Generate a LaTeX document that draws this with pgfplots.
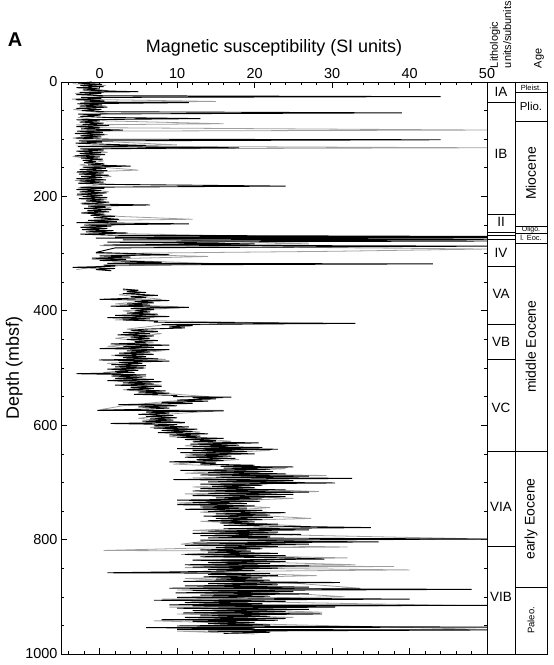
\documentclass[border=0pt]{standalone}
\usepackage{fontspec}
\setmainfont{Liberation Sans}
\usepackage{pgfplots}
\pgfplotsset{compat=1.18}
\begin{document}
\begin{tikzpicture}[x=1bp,y=1bp]
\useasboundingbox (-61,-11) rectangle (493,654);
\begin{axis}[
  at={(0,0)}, anchor=south west,
  scale only axis, width=426bp, height=572bp,
  xmin=-5, xmax=50, ymin=0, ymax=1000, y dir=reverse,
  clip=false,
  xtick={0,10,...,50},
  minor xtick={-4,-2,2,4,6,8,12,14,16,18,22,24,26,28,32,34,36,38,42,44,46,48},
  ytick={0,200,...,1000},
  minor ytick={50,100,150,250,300,350,450,500,550,650,700,750,850,900,950},
  xtick pos=both, ytick pos=both, xticklabel pos=right, yticklabel pos=left,
  tick align=inside,
  major tick length=6bp, minor tick length=3.5bp,
  every tick/.style={black, line width=0.6pt},
  axis line style={line width=0.7pt},
  /pgf/number format/assume math mode=true,
  /pgf/number format/1000 sep={},
  ticklabel style={font=\fontsize{14.5}{16}\selectfont},
  xlabel={Magnetic susceptibility (SI units)},
  ylabel={Depth (mbsf)},
  x label style={at={(axis description cs:0.5,1.0507)}, anchor=base, font=\fontsize{18}{20}\selectfont},
  y label style={at={(axis description cs:-0.110,0.5)}, anchor=center, font=\fontsize{18}{20}\selectfont},
]
% gray series (second record)
\addplot[gray!75, line width=0.8pt, line join=bevel] coordinates {
(-3.5,3) (0.8,6) (-2.0,10) (1.0,15) (-3.2,20) (0.5,25) (-3.6,30) (15,34) (-2.5,36) (0.8,42) (-3.4,48) (1.0,55)
(-2.8,62) (0.9,68) (16,73) (-3.0,75) (0.5,80) (50,84) (-2.5,86) (1.0,92) (-3.5,98) (0.6,104) (10,110) (-3.0,112)
(50,115) (-2.0,117) (1.0,123) (-3.5,130) (0.5,138) (-2.6,145) (1.2,150) (5.0,154) (-3.0,158) (1.5,165) (-3.2,172)
(0.8,178) (-2.8,185) (1.2,192) (-3.0,198) (0.9,205) (-2.5,212) (1.5,220) (-2.0,228) (2.5,235) (12,240) (-1.0,242)
(2.0,250) (-2.0,258) (2.5,265) (30,272) (5,274) (27,283) (0.0,286) (50,292) (30,296) (-0.5,300) (14,305) (-1.0,310)
(16,318) (0,322) (-3.0,328)
};
\addplot[gray!75, line width=0.8pt, line join=bevel] coordinates {
(3.0,364) (5.0,365) (2.5,372) (8.0,380) (2.0,388) (11.5,394) (3.0,400) (8.0,410) (2.0,416) (26,422) (8.0,425)
(3.5,432) (8.0,440) (2.0,448) (7.0,456) (1.0,462) (8.0,470) (1.5,478) (8.5,485) (1.0,492) (6.0,500) (0.5,508)
(6.0,515) (1.5,522) (8.0,530) (3.0,538) (9.0,545) (16.0,552) (9.0,558) (3.0,566) (0.0,573) (16,574) (9.5,580)
(5.0,588) (11.0,596) (6.5,604) (13.0,612) (9.0,620) (17.0,628) (11.0,636) (22.0,644) (11.0,652) (18.0,660)
(9.5,668) (24.0,676) (11.0,684) (29.3,688) (12.0,692) (26.0,700) (12.0,708) (28.3,716) (11.0,720) (25.0,728)
(10.0,736) (22.0,744) (13.0,752) (27.3,763) (13.0,768) (26.0,776) (12.0,784) (25.0,792) (50,799) (14,802)
(10.5,808) (32,813) (12,815) (0.5,819) (19.5,820) (10.5,826) (32,832) (12,836) (33,844) (13,846) (38,847)
(11,849) (40,853) (12,856) (28,863) (11,868) (25,876) (33.6,885) (10,888) (26,895) (31.6,900) (8,904) (25,910)
(46,915) (9.0,918) (28.7,927) (10,930) (25,936) (7.0,942) (22,948) (50,957) (10,960) (20,965)
};
% black series
\addplot[black, line width=0.9pt, line join=bevel] coordinates {
(-1.0,0) (-2.8,2) (0.3,4) (-2.5,6) (0.5,8) (-3.0,10) (0.0,12) (-2.2,14) (1.8,16) (5.0,17) (-2.6,18) (0.2,20)
(-3.0,22) (0.4,24) (44,25.6) (-2.4,27) (0.2,29) (-3.1,31) (0.6,33) (-2.0,35) (11.5,36) (-2.9,38) (0.3,40)
(-2.6,42) (1.0,44) (-3.0,46) (0.2,48) (-2.3,50) (0.6,52) (39,54) (-2.8,56) (0.1,58) (-2.5,60) (0.8,62) (13,64)
(-3.0,66) (0.0,68) (-2.6,70) (0.5,72) (-2.2,74) (1.2,76) (-3.0,78) (0.0,80) (-2.4,82) (3.0,84) (-2.9,86)
(0.4,88) (-3.2,90) (0.6,92) (-2.5,94) (0.2,96) (-3.0,98) (0.8,100) (44,101) (-2.7,103) (0.3,105) (-3.1,107)
(1.0,109) (6,111) (-2.8,113) (18,115) (-2.5,117) (0.5,119) (-3.0,121) (0.2,123) (-2.6,125) (0.7,127) (-3.2,129)
(0.0,131) (-2.4,133) (0.4,135) (-2.2,137) (-0.5,139) (-2.0,141) (0.6,143) (-1.5,145) (4.0,147) (-2.2,149)
(0.8,151) (-2.6,153) (1.0,155) (-2.9,157) (0.5,159) (-2.7,161) (1.2,163) (-2.4,165) (0.3,167) (-3.0,169)
(0.8,171) (-2.6,173) (0.5,175) (-2.8,177) (1.0,179) (24,182) (-2.5,184) (0.6,186) (-3.0,188) (0.2,190)
(-2.6,192) (0.9,194) (-2.9,196) (0.4,198) (-2.2,200) (1.0,202) (-2.7,204) (0.5,206) (-1.8,208) (1.2,210)
(-2.3,213) (6.5,215) (-1.5,217) (0.8,219) (-2.0,221) (1.5,223) (-1.6,225) (1.2,227) (-2.4,229) (0.6,231)
(-1.2,233) (2.0,235) (-0.8,237) (2.5,240) (-1.5,242) (2.2,244) (-3.0,246) (11.5,248) (-2.0,250) (1.5,252)
(-2.5,254) (1.0,256) (-2.3,258) (1.8,260) (-1.8,262) (3.6,264) (-2.5,266) (2.0,268) (50,270) (2.0,271)
(50,272) (-0.5,273) (50,275) (3.0,276) (50,278) (1.0,280) (20,283) (0.5,285) (50,287) (2.0,290) (-0.5,298)
(9.0,302) (0.0,304) (4.0,306) (-1.0,308) (3.4,310) (0.0,312) (8.0,315) (1.0,317) (43,318) (0.5,320) (2.0,322)
(-3.5,324) (2.0,326) (-0.5,328) (1.5,330)
};
\addplot[black, line width=0.9pt, line join=bevel] coordinates {
(3.0,362) (5.0,364) (3.5,366) (6.0,368) (3.0,370) (7.5,373) (4.0,375) (6.0,377) (0.0,380) (9.0,382) (4.5,384)
(7.0,386) (3.5,388) (6.5,390) (1.4,392) (11.5,394) (4.0,396) (7.0,398) (4.5,400) (6.5,402) (3.5,404) (7.5,406)
(2.0,408) (9.0,410) (1.0,412) (6.5,414) (3.0,416) (7.5,418) (7.0,420) (33,422) (8.0,424) (12.0,426) (9.0,428)
(11.0,430) (6.0,432) (4.0,434) (7.5,436) (3.0,438) (6.5,440) (2.3,442) (7.0,444) (4.0,446) (6.5,448) (3.5,450)
(7.5,452) (4.5,454) (6.0,456) (1.4,458) (9.0,460) (3.0,462) (7.0,464) (0.0,466) (9.0,468) (3.5,470) (6.5,472)
(2.5,474) (7.0,476) (2.0,478) (6.0,480) (3.0,482) (7.5,484) (-0.1,486) (9.0,488) (2.5,490) (5.5,492) (1.5,494)
(6.0,496) (2.0,498) (5.7,500) (1.0,502) (5.0,504) (2.0,506) (4.5,508) (-3.0,510) (6.0,512) (1.5,514) (5.5,516)
(2.0,518) (7.0,520) (1.0,522) (8.0,524) (3.0,526) (7.0,528) (2.0,530) (8.0,532) (4.0,534) (7.0,536) (3.5,538)
(8.5,540) (5.0,542) (9.0,544) (4.4,546) (10.0,548) (9.5,550) (17.0,551) (12.0,552) (15.0,554) (10.0,556)
(14.0,558) (8.0,560) (12.0,562) (2.4,564) (10.0,566) (5.0,568) (9.0,570) (6.0,572) (-0.3,574) (16.0,575)
(6.0,577) (9.0,579) (5.0,581) (9.5,583) (6.0,585) (10.0,587) (6.5,589) (9.5,591) (5.5,593) (11.0,595) (1.4,597)
(10.0,599) (7.0,601) (11.5,603) (7.0,605) (12.6,607) (8.0,609) (12.0,611) (7.5,613) (14.0,615) (9.0,617)
(13.0,619) (10.0,621) (16.0,623) (11.0,625) (15.0,627) (12.0,629) (20.5,631) (11.7,633) (18.0,635) (12.0,637)
(21.0,639) (10.0,641) (23.0,642) (12.0,644) (19.0,646) (10.4,648) (20.0,650) (12.0,652) (17.0,654) (11.0,656)
(17.5,658) (12.5,660) (16.0,662) (9.0,664) (15.0,666) (13.0,668) (20.0,670) (15.6,672) (25.0,673) (16.0,675)
(22.0,677) (10.4,679) (22.4,681) (14.0,683) (24.0,685) (13.0,687) (27.0,689) (15.0,691) (32.6,693) (9.5,695)
(25.0,697) (14.0,699) (30.4,701) (13.0,703) (21.0,705) (14.5,707) (20.0,709) (13.0,711) (24.0,713) (12.0,715)
(27.0,717) (14.0,719) (25.0,721) (12.0,723) (24.0,725) (15.0,727) (21.0,729) (10.0,731) (20.7,733) (12.0,735)
(19.0,737) (10.0,739) (20.0,741) (13.0,743) (19.0,745) (11.0,747) (21.0,749) (14.0,751) (24.0,753) (15.0,755)
(22.0,757) (13.4,759) (22.4,761) (15.0,763) (21.0,765) (14.0,767) (20.0,769) (15.5,771) (23.0,773) (16.0,775)
(25.0,777) (35.0,779) (16.0,781) (27.0,783) (14.0,785) (23.0,787) (12.0,789) (26.0,791) (13.0,793) (22.0,795)
(14.0,797) (50,799) (13.0,801) (24.0,803) (36.0,804) (12.0,806) (27.0,808) (11.0,810) (23.0,812) (15.0,814)
(21.0,816) (13.0,818) (19.5,820) (14.0,822) (23.0,824) (11.0,826) (24.0,828) (13.0,830) (25.0,832) (29.0,834)
(12.0,836) (24.0,838) (14.0,840) (22.0,842) (11.0,844) (27.0,846) (12.0,848) (23.0,850) (14.0,852) (20.0,854)
(12.0,856) (1.0,858) (22.0,859) (14.0,861) (23.0,863) (13.4,865) (21.0,867) (15.0,869) (22.0,871) (10.8,873)
(31.0,875) (14.0,877) (23.0,879) (11.0,881) (27.0,883) (9.0,885) (48.0,887) (12.0,889) (25.0,891) (9.8,893)
(27.0,895) (13.0,897) (22.0,899) (10.0,901) (25.5,903) (40.0,904) (7.0,906) (24.0,908) (11.0,910) (21.0,912)
(9.0,914) (50,915) (12.0,916) (30.4,918) (10.0,920) (27.0,922) (12.0,924) (24.0,926) (10.8,928) (28.7,930)
(13.0,932) (22.0,934) (11.0,936) (24.0,938) (8.0,940) (23.0,941) (12.0,943) (20.0,945) (14.0,947) (22.0,949)
(10.0,951) (50,953) (6.0,954) (20.0,955) (10.0,957) (50,958) (14.0,960) (22.0,962) (16.0,964)
};
% lithologic units and age columns
\draw[line width=0.6pt] (axis cs:53.615,0) rectangle (axis cs:57.747,1000);
\draw[line width=1pt] (axis cs:50,0) -- (axis cs:50,1000);
\draw[line width=0.6pt] (axis cs:50,0) -- (axis cs:53.615,0) (axis cs:50,1000) -- (axis cs:53.615,1000);
\draw[line width=0.6pt]
  (axis cs:50,35.5) -- (axis cs:53.615,35.5)
  (axis cs:50,231) -- (axis cs:53.615,231)
  (axis cs:50,262) -- (axis cs:53.615,262)
  (axis cs:50,268) -- (axis cs:53.615,268)
  (axis cs:50,275) -- (axis cs:53.615,275)
  (axis cs:50,322) -- (axis cs:53.615,322)
  (axis cs:50,423) -- (axis cs:53.615,423)
  (axis cs:50,485) -- (axis cs:53.615,485)
  (axis cs:50,645) -- (axis cs:53.615,645)
  (axis cs:50,812) -- (axis cs:53.615,812);
\draw[line width=0.6pt]
  (axis cs:53.615,18.7) -- (axis cs:57.747,18.7)
  (axis cs:53.615,69) -- (axis cs:57.747,69)
  (axis cs:53.615,252) -- (axis cs:57.747,252)
  (axis cs:53.615,264) -- (axis cs:57.747,264)
  (axis cs:53.615,282) -- (axis cs:57.747,282)
  (axis cs:53.615,645) -- (axis cs:57.747,645)
  (axis cs:53.615,883) -- (axis cs:57.747,883);
\node[font=\fontsize{13.5}{15}\selectfont, inner sep=0pt] at (axis cs:51.81,17.7) {IA};
\node[font=\fontsize{13.5}{15}\selectfont, inner sep=0pt] at (axis cs:51.81,125) {IB};
\node[font=\fontsize{13.5}{15}\selectfont, inner sep=0pt] at (axis cs:51.81,245) {II};
\node[font=\fontsize{13.5}{15}\selectfont, inner sep=0pt] at (axis cs:51.81,298) {IV};
\node[font=\fontsize{13.5}{15}\selectfont, inner sep=0pt] at (axis cs:51.81,370) {VA};
\node[font=\fontsize{13.5}{15}\selectfont, inner sep=0pt] at (axis cs:51.81,455) {VB};
\node[font=\fontsize{13.5}{15}\selectfont, inner sep=0pt] at (axis cs:51.81,570) {VC};
\node[font=\fontsize{13.5}{15}\selectfont, inner sep=0pt] at (axis cs:51.81,742) {VIA};
\node[font=\fontsize{13.5}{15}\selectfont, inner sep=0pt] at (axis cs:51.81,900) {VIB};
\node[font=\fontsize{7.5}{8}\selectfont, inner sep=0pt] at (axis cs:55.68,9.6) {Pleist.};
\node[font=\fontsize{11.5}{13}\selectfont, inner sep=0pt] at (axis cs:55.68,43) {Plio.};
\node[rotate=90, font=\fontsize{14}{16}\selectfont, inner sep=0pt] at (axis cs:55.68,160) {Miocene};
\node[font=\fontsize{7}{8}\selectfont, inner sep=0pt] at (axis cs:55.68,258) {Oligo.};
\node[font=\fontsize{7.5}{8}\selectfont, inner sep=0pt] at (axis cs:55.68,273) {l. Eoc.};
\node[rotate=90, font=\fontsize{14}{16}\selectfont, inner sep=0pt] at (axis cs:55.68,463) {middle Eocene};
\node[rotate=90, font=\fontsize{14}{16}\selectfont, inner sep=0pt] at (axis cs:55.68,764) {early Eocene};
\node[rotate=90, font=\fontsize{9.5}{11}\selectfont, inner sep=0pt] at (axis cs:55.68,941) {Paleo.};
\node[rotate=90, anchor=west, align=left, font=\fontsize{11}{13.5}\selectfont, inner sep=0pt] at (axis cs:51.75,-24) {Lithologic\\units/subunits};
\node[rotate=90, anchor=west, font=\fontsize{11}{13.5}\selectfont, inner sep=0pt] at (axis cs:56.72,-24) {Age};
\end{axis}
\node[font=\fontsize{20}{22}\selectfont\bfseries] at (-46,614) {A};
\end{tikzpicture}
\end{document}
